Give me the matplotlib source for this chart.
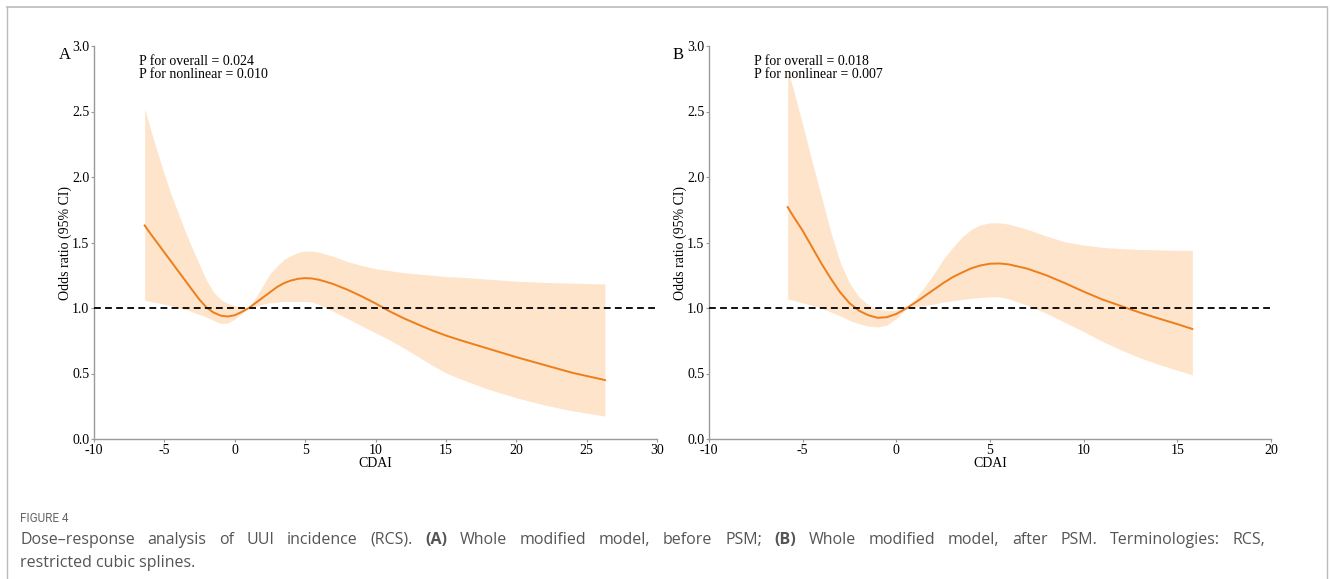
import numpy as np
import matplotlib.pyplot as plt
from matplotlib.lines import Line2D

plt.rcParams['axes.unicode_minus'] = False

# ---- panel A : before PSM ----
cdai_a = [-6.4, -6, -5.5, -5, -4.5, -4, -3.5, -3, -2.5, -2, -1.5, -1, -0.5, 0, 0.5, 1,
          1.5, 2, 2.5, 3, 3.5, 4, 4.5, 5, 5.5, 6, 6.5, 7, 8, 9, 10, 11, 12, 13, 14, 15, 16,
          18, 20, 22, 24, 26.3]
or_a = [1.63, 1.569, 1.497, 1.424, 1.352, 1.279, 1.207, 1.134, 1.063, 1.003, 0.965, 0.942, 0.935, 0.945, 0.97, 1.0,
        1.04, 1.08, 1.12, 1.16, 1.19, 1.21, 1.223, 1.228, 1.225, 1.215, 1.20, 1.183, 1.14, 1.09, 1.035, 0.975, 0.922, 0.875, 0.83, 0.79, 0.755,
        0.69, 0.625, 0.565, 0.505, 0.45]
lo_a = [1.06, 1.05, 1.04, 1.03, 1.015, 1.0, 0.99, 0.97, 0.95, 0.93, 0.905, 0.882, 0.885, 0.915, 0.96, 1.0,
        1.015, 1.03, 1.04, 1.045, 1.05, 1.05, 1.05, 1.05, 1.045, 1.025, 1.002, 0.975, 0.92, 0.865, 0.81, 0.757, 0.695, 0.63, 0.565, 0.505, 0.46,
        0.38, 0.315, 0.26, 0.215, 0.175]
hi_a = [2.52, 2.37, 2.19, 2.02, 1.86, 1.72, 1.58, 1.45, 1.33, 1.21, 1.12, 1.065, 1.035, 1.018, 1.008, 1.0,
        1.08, 1.17, 1.26, 1.32, 1.37, 1.40, 1.425, 1.435, 1.435, 1.425, 1.41, 1.395, 1.355, 1.325, 1.30, 1.285, 1.27, 1.26, 1.25, 1.24, 1.235,
        1.22, 1.205, 1.195, 1.19, 1.183]

# ---- panel B : after PSM ----
cdai_b = [-5.8, -5.5, -5, -4.5, -4, -3.5, -3, -2.5, -2, -1.5, -1, -0.5, 0, 0.5, 1, 1.5, 2,
          2.5, 3, 3.5, 4, 4.5, 5, 5.5, 6, 7, 8, 9, 10, 11, 12, 13, 14, 15, 15.8]
or_b = [1.77, 1.70, 1.59, 1.465, 1.34, 1.225, 1.12, 1.037, 0.98, 0.945, 0.925, 0.93, 0.955, 0.995, 1.04, 1.09, 1.14,
        1.19, 1.235, 1.27, 1.303, 1.325, 1.338, 1.34, 1.333, 1.30, 1.25, 1.19, 1.125, 1.065, 1.015, 0.965, 0.92, 0.877, 0.84]
lo_b = [1.07, 1.06, 1.04, 1.02, 1.0, 0.97, 0.94, 0.906, 0.88, 0.862, 0.855, 0.87, 0.92, 0.99, 1.01, 1.02, 1.03,
        1.045, 1.055, 1.065, 1.075, 1.08, 1.085, 1.085, 1.07, 1.02, 0.96, 0.89, 0.82, 0.745, 0.68, 0.62, 0.57, 0.525, 0.49]
hi_b = [2.82, 2.67, 2.40, 2.12, 1.85, 1.58, 1.35, 1.19, 1.085, 1.025, 0.99, 0.98, 0.985, 1.0, 1.07, 1.16, 1.26,
        1.37, 1.46, 1.54, 1.60, 1.635, 1.65, 1.65, 1.64, 1.60, 1.55, 1.505, 1.48, 1.463, 1.453, 1.447, 1.443, 1.44, 1.44]

yticks = [0.0, 0.5, 1.0, 1.5, 2.0, 2.5, 3.0]
xticks_a = [-10, -5, 0, 5, 10, 15, 20, 25, 30]
xticks_b = [-10, -5, 0, 5, 10, 15, 20]
p_a = ['P for overall = 0.024', 'P for nonlinear = 0.010']
p_b = ['P for overall = 0.018', 'P for nonlinear = 0.007']

line_col = '#EE7D1A'
fill_col = '#FDE4CB'
axis_col = '#999999'
serif = 'Liberation Serif'

W, H = 1330, 579
fig = plt.figure(figsize=(W / 100, H / 100), dpi=100)


def px(x, y):
    return x / W, 1 - y / H


def draw_panel(ax, x, y, lo, hi, xticks, letter, ptxt, letter_x):
    ax.fill_between(x, lo, hi, color=fill_col, lw=0, zorder=1)
    ax.plot(x, y, color=line_col, lw=1.4, zorder=2)
    ax.axhline(1.0, color='#111111', ls=(0, (3.5, 2.2)), lw=1.4, zorder=3)
    ax.set_xlim(xticks[0], xticks[-1])
    ax.set_ylim(0, 3)
    ax.set_xticks(xticks)
    ax.set_xticklabels([str(t) for t in xticks])
    ax.set_yticks(yticks)
    ax.set_yticklabels(['%.1f' % t for t in yticks])
    for s in ['top', 'right']:
        ax.spines[s].set_visible(False)
    for s in ['left', 'bottom']:
        ax.spines[s].set_color(axis_col)
        ax.spines[s].set_linewidth(1.0)
    ax.tick_params(colors=axis_col, labelcolor='black', length=2.5, width=0.8, pad=1)
    for lab in ax.get_xticklabels() + ax.get_yticklabels():
        lab.set_family(serif)
        lab.set_fontsize(10)
    ax.set_xlabel('CDAI', family=serif, fontsize=10, labelpad=0)
    ax.set_ylabel('Odds ratio (95% CI)', family=serif, fontsize=10, labelpad=0)
    ax.text(0.08, 0.978, '\n'.join(ptxt), transform=ax.transAxes, ha='left', va='top',
            family=serif, fontsize=10, linespacing=1.05)
    fx, fy = px(letter_x, 59)
    fig.text(fx, fy, letter, family=serif, fontsize=12, ha='left', va='baseline')


ax_a = fig.add_axes([94 / W, 1 - 439 / H, 563 / W, 393 / H])
draw_panel(ax_a, cdai_a, or_a, lo_a, hi_a, xticks_a, 'A', p_a, 59)
ax_b = fig.add_axes([709 / W, 1 - 439 / H, 562 / W, 393 / H])
draw_panel(ax_b, cdai_b, or_b, lo_b, hi_b, xticks_b, 'B', p_b, 673)

# outer frame
fc = '#bbbbbb'
fig.add_artist(Line2D([7 / W, 1327 / W], [1 - 7 / H, 1 - 7 / H], transform=fig.transFigure, color=fc, lw=1.2))
fig.add_artist(Line2D([7 / W, 7 / W], [0, 1 - 7 / H], transform=fig.transFigure, color=fc, lw=1.0))
fig.add_artist(Line2D([1327 / W, 1327 / W], [0, 1 - 7 / H], transform=fig.transFigure, color=fc, lw=1.0))

# caption
cap_col = '#555555'
cap_font = 'Open Sans'
cap_size = 11.5
fx, fy = px(20, 518)
fig.text(fx, fy, 'FIGURE 4', family='Roboto', fontsize=8.5, color='#666666', va='center')

renderer = fig.canvas.get_renderer()
line1 = [('Dose\u2013response', 'normal'), ('analysis', 'normal'), ('of', 'normal'), ('UUI', 'normal'),
         ('incidence', 'normal'), ('(RCS).', 'normal'), ('(A)', 'bold'), ('Whole', 'normal'),
         ('modified', 'normal'), ('model,', 'normal'), ('before', 'normal'), ('PSM;', 'normal'),
         ('(B)', 'bold'), ('Whole', 'normal'), ('modified', 'normal'), ('model,', 'normal'),
         ('after', 'normal'), ('PSM.', 'normal'), ('Terminologies:', 'normal'), ('RCS,', 'normal')]
# justified line: spread the words between x=20 and x=1265
words = []
for txt, wt in line1:
    fx, fy = px(0, 540)
    t = fig.text(fx, fy, txt, family=cap_font, fontsize=cap_size, color=cap_col, weight=wt, va='center')
    words.append((t, t.get_window_extent(renderer).width))
total = sum(w for _, w in words)
gap = (1265 - 20 - total) / (len(words) - 1)
xcur = 20
for t, w in words:
    t.set_x(xcur / W)
    xcur += w + gap
fx, fy = px(20, 563)
fig.text(fx, fy, 'restricted cubic splines.', family=cap_font, fontsize=cap_size, color=cap_col, va='center')

fig.savefig('out.png', dpi=100)
